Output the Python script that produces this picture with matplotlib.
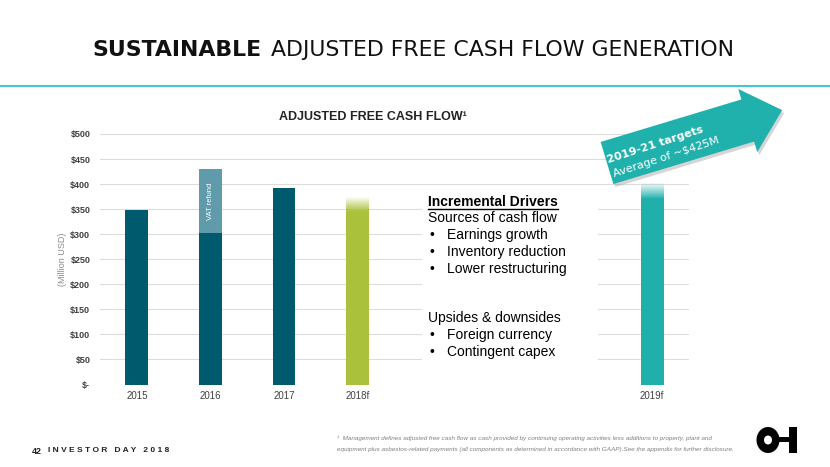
import matplotlib
matplotlib.use("Agg")
import matplotlib.pyplot as plt
import matplotlib.transforms as mtransforms
from matplotlib.patches import Polygon, Rectangle, Ellipse
from matplotlib.lines import Line2D
import numpy as np

# ---- data ----
years = ["2015", "2016", "2017", "2018f", "2019f"]
base_values = [348, 303, 393, 345, 370]      # solid part of each bar
vat_refund = [0, 127, 0, 0, 0]               # 2016 VAT refund on top
fade_top = [0, 0, 0, 375, 403]               # forecast bars fade out up to here
ytick_vals = [0, 50, 100, 150, 200, 250, 300, 350, 400, 450, 500]
ytick_text = ["$-", "$50", "$100", "$150", "$200", "$250", "$300",
              "$350", "$400", "$450", "$500"]

dark = "#005A6E"
light = "#5F9BAA"
green = "#AAC23B"
teal = "#1FB0AC"
bar_colors = [dark, dark, dark, green, teal]

plt.rcParams["font.family"] = ["Liberation Sans", "DejaVu Sans"]

fig = plt.figure(figsize=(8.3, 4.67), dpi=100)
# image-pixel coordinates (y down) -> figure
pix = mtransforms.Affine2D().scale(1, -1).translate(0, 467).scale(1 / 830, 1 / 467) + fig.transFigure

ax = fig.add_axes([100 / 830, 82.5 / 467, 589 / 830, 250.5 / 467])
slots = [0, 1, 2, 3, 7]
w = 0.31

for i in range(len(years)):
    x = slots[i]
    ax.bar(x, base_values[i], width=w, color=bar_colors[i], zorder=3)
    if vat_refund[i] > 0:
        ax.bar(x, vat_refund[i], bottom=base_values[i], width=w, color=light, zorder=3)
        ax.text(x, base_values[i] + vat_refund[i] / 2, "VAT refund", rotation=90,
                color="white", fontsize=5.5, ha="center", va="center", zorder=4)
    if fade_top[i] > base_values[i]:
        n = 25
        step = (fade_top[i] - base_values[i]) / n
        for k in range(n):
            ax.bar(x, step, bottom=base_values[i] + k * step, width=w,
                   color=bar_colors[i], alpha=1 - (k + 0.5) / n, linewidth=0, zorder=3)

ax.set_xlim(-0.5, 7.5)
ax.set_ylim(0, 500)
ax.set_xticks(slots)
ax.set_xticklabels(years, fontsize=7, color="#404040")
ax.set_yticks(ytick_vals)
ax.set_yticklabels(ytick_text, fontsize=6.5, color="#404040", fontweight="bold")
ax.tick_params(length=0, pad=7)
ax.tick_params(axis="x", pad=5)
for s in ax.spines.values():
    s.set_visible(False)
ax.yaxis.grid(True, color="#DCDCDC", linewidth=0.8, zorder=0)
ax.set_axisbelow(True)
ax.set_ylabel("(Million USD)", fontsize=6.5, color="#8C8C8C", labelpad=2)

# white panel hiding the grid behind the drivers text
fig.add_artist(Rectangle((422, 195), 176, 197, transform=pix, facecolor="white",
                         edgecolor="none", zorder=2))

# chart title
fig.text(373, 117, "ADJUSTED FREE CASH FLOW\u00b9", transform=pix, ha="center", va="center",
         fontsize=9, fontweight="bold", color="#222222")

# slide title
t1 = fig.text(92, 50, "SUSTAINABLE", transform=pix, ha="left", va="center",
              fontsize=15.8, fontweight="bold", color="#111111", family="DejaVu Sans")
fig.canvas.draw()
bb = t1.get_window_extent()
fig.text(bb.x1 / 830 + 0.012, 1 - 50 / 467, "ADJUSTED FREE CASH FLOW GENERATION",
         ha="left", va="center", fontsize=15.8, color="#111111", family="DejaVu Sans")
fig.add_artist(Line2D([0, 830], [86, 86], transform=pix, color="#45C6CE", linewidth=1.5))

# arrow
a = np.deg2rad(16.8)
d = np.array([np.cos(a), -np.sin(a)])
nrm = np.array([-np.sin(a), -np.cos(a)])
T = np.array([607, 163])
L, hl, sw, hw = 183, 36, 22, 33
pts = [T + sw * nrm, T + (L - hl) * d + sw * nrm, T + (L - hl) * d + hw * nrm,
       T + L * d, T + (L - hl) * d - hw * nrm, T + (L - hl) * d - sw * nrm, T - sw * nrm]
pts = np.array(pts)
fig.add_artist(Polygon(pts + np.array([2, 3]), closed=True, transform=pix,
                       facecolor="#888888", alpha=0.35, edgecolor="none", zorder=5))
fig.add_artist(Polygon(pts, closed=True, transform=pix, facecolor="#21B1AD",
                       edgecolor="none", zorder=6))
fig.text(655, 145, "2019-21 targets", transform=pix, rotation=18, ha="center", va="center",
         fontsize=8, fontweight="bold", color="white", zorder=7, family="DejaVu Sans")
fig.text(666, 157, "Average of ~$425M", transform=pix, rotation=18, ha="center", va="center",
         fontsize=8, color="white", zorder=7, family="DejaVu Sans")

# drivers text
hdr = fig.text(428, 202, "Incremental Drivers", transform=pix, ha="left", va="center",
               fontsize=10, fontweight="bold", color="black", zorder=4)
fig.canvas.draw()
hb = hdr.get_window_extent()
fig.add_artist(Line2D([hb.x0 / 830, hb.x1 / 830], [(hb.y0 + 0.5) / 467] * 2,
                      transform=fig.transFigure, color="black", linewidth=1, zorder=4))
lines = [("", "Sources of cash flow", 218), ("\u2022", "Earnings growth", 235),
         ("\u2022", "Inventory reduction", 252), ("\u2022", "Lower restructuring", 269),
         ("", "Upsides & downsides", 318), ("\u2022", "Foreign currency", 335),
         ("\u2022", "Contingent capex", 352)]
for b, txt, yy in lines:
    if b:
        fig.text(429, yy, b, transform=pix, ha="left", va="center", fontsize=10, zorder=4)
        fig.text(447, yy, txt, transform=pix, ha="left", va="center", fontsize=10, zorder=4)
    else:
        fig.text(428, yy, txt, transform=pix, ha="left", va="center", fontsize=10, zorder=4)

# footer
fig.text(32, 451, "42", transform=pix, ha="left", va="center", fontsize=6.5,
         fontweight="bold", color="#222222")
fig.text(48, 451, "I N V E S T O R   D A Y   2 0 1 8", transform=pix, ha="left",
         va="center", fontsize=6, fontweight="bold", color="#222222")
fig.text(337, 438, "\u00b9  Management defines adjusted free cash flow as cash provided by continuing "
         "operating activities less additions to property, plant and", transform=pix,
         ha="left", va="center", fontsize=4.6, style="italic", color="#808080")
fig.text(337, 449, "equipment plus asbestos-related payments (all components as determined in "
         "accordance with GAAP).See the appendix for further disclosure.", transform=pix,
         ha="left", va="center", fontsize=4.6, style="italic", color="#808080")

# logo
fig.add_artist(Ellipse((768, 440), 23, 26, transform=pix, facecolor="black", edgecolor="none"))
fig.add_artist(Ellipse((768, 440), 8, 9, transform=pix, facecolor="white", edgecolor="none"))
fig.add_artist(Rectangle((778, 437), 12, 5, transform=pix, facecolor="black", edgecolor="none"))
fig.add_artist(Rectangle((789, 427), 8, 26, transform=pix, facecolor="black", edgecolor="none"))

fig.savefig("out.png", dpi=100)
